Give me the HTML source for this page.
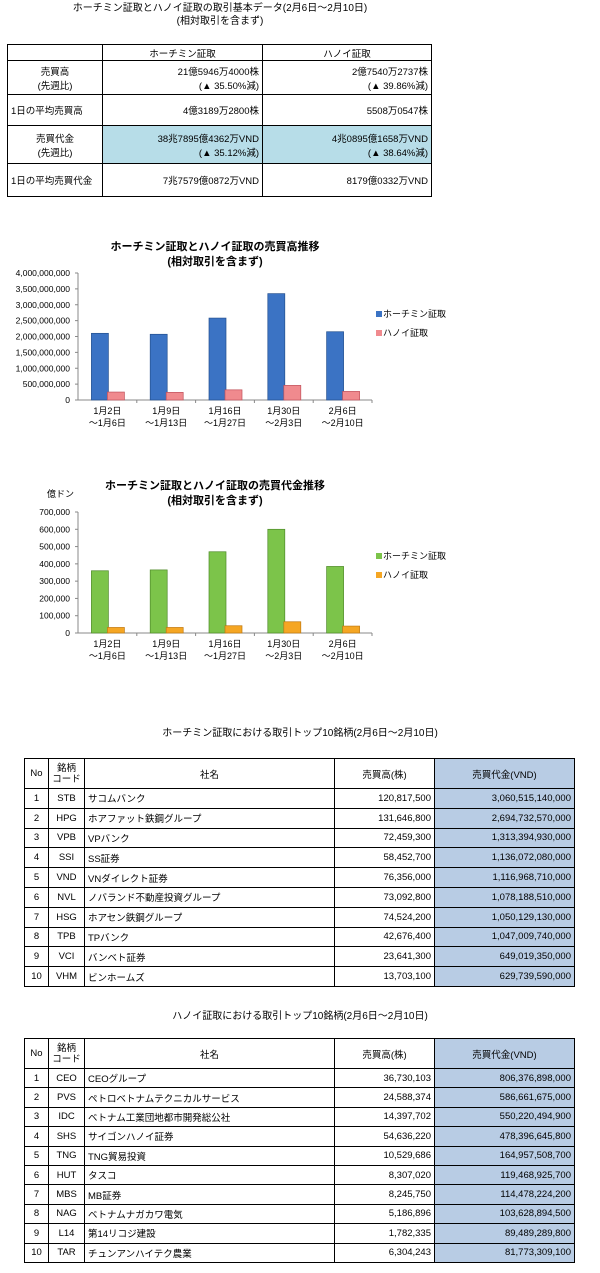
<!DOCTYPE html>
<html><head><meta charset="utf-8">
<style>
*{margin:0;padding:0;box-sizing:border-box}
body{width:600px;height:1273px;background:#fff;position:relative;font-family:"Liberation Sans","Noto Sans CJK JP",sans-serif;color:#000;overflow:hidden}
.t{position:absolute;font-size:10px;white-space:nowrap}
table{position:absolute;border-collapse:collapse;font-size:9.5px}
td{border:1px solid #000;padding:0 3px;white-space:nowrap}
.r{text-align:right}.c{text-align:center}
.hl{background:#b7dde8}.bl{background:#b8cce4}
</style></head><body>
<div class="t" style="left:0;width:440px;text-align:center;top:2px;line-height:13px">ホーチミン証取とハノイ証取の取引基本データ(2月6日～2月10日)<br>(相対取引を含まず)</div>
<table style="left:7px;top:44px;width:425px">
<tr style="height:16px"><td style="width:95px"></td><td class="c" style="width:160px">ホーチミン証取</td><td class="c">ハノイ証取</td></tr>
<tr style="height:34px"><td class="c">売買高<br>(先週比)</td><td class="r">21億5946万4000株<br>(▲ 35.50%減)</td><td class="r">2億7540万2737株<br>(▲ 39.86%減)</td></tr>
<tr style="height:31px"><td>1日の平均売買高</td><td class="r">4億3189万2800株</td><td class="r">5508万0547株</td></tr>
<tr style="height:38px"><td class="c">売買代金<br>(先週比)</td><td class="r hl">38兆7895億4362万VND<br>(▲ 35.12%減)</td><td class="r hl">4兆0895億1658万VND<br>(▲ 38.64%減)</td></tr>
<tr style="height:33px"><td>1日の平均売買代金</td><td class="r">7兆7579億0872万VND</td><td class="r">8179億0332万VND</td></tr>
</table>

<svg id="c1" style="position:absolute;left:0;top:230px" width="600" height="210"></svg>
<svg id="c2" style="position:absolute;left:0;top:470px" width="600" height="210"></svg>

<div class="t" style="left:0;width:600px;text-align:center;top:724px">ホーチミン証取における取引トップ10銘柄(2月6日～2月10日)</div>
<table id="tb1" style="left:24px;top:758px;width:551px"></table>
<div class="t" style="left:0;width:600px;text-align:center;top:1007px">ハノイ証取における取引トップ10銘柄(2月6日～2月10日)</div>
<table id="tb2" style="left:24px;top:1038px;width:551px"></table>

<script>
const cats1=["1月2日|～1月6日","1月9日|～1月13日","1月16日|～1月27日","1月30日|～2月3日","2月6日|～2月10日"];
const hcmVol=[2100000000,2070000000,2580000000,3350000000,2150000000];
const hnVol=[250000000,240000000,320000000,460000000,270000000];
const ticks1=["0","500,000,000","1,000,000,000","1,500,000,000","2,000,000,000","2,500,000,000","3,000,000,000","3,500,000,000","4,000,000,000"];
const hcmVal=[360000,365000,470000,600000,385000];
const hnVal=[32000,32000,42000,65000,40000];
const ticks2=["0","100,000","200,000","300,000","400,000","500,000","600,000","700,000"];

const NS="http://www.w3.org/2000/svg";
function mk(svg,tag,at,txt){const e=document.createElementNS(NS,tag);for(const k in at)e.setAttribute(k,at[k]);if(txt!==undefined)e.textContent=txt;svg.appendChild(e);return e;}
function chart(id,title,unit,ticks,tmax,s1,s2,c1,c2,y0,y1,legY){
  const svg=document.getElementById(id);
  const X0=78,X1=372;
  const y=v=>y0-(v/tmax)*(y0-y1);
  let t=mk(svg,'text',{x:215,y:y1-23,'font-size':11,'font-weight':'bold','text-anchor':'middle'},title[0]);
  mk(svg,'text',{x:215,y:y1-8,'font-size':11,'font-weight':'bold','text-anchor':'middle'},title[1]);
  if(unit){mk(svg,'text',{x:47,y:y1-15,'font-size':9},unit);}
  const step=tmax/(ticks.length-1);
  ticks.forEach((lb,i)=>{const yy=y(i*step);const e=mk(svg,'text',{x:70,y:yy+3,'font-size':8.5,'text-anchor':'end'},lb);mk(svg,'line',{x1:75,x2:X0,y1:yy,y2:yy,stroke:'#888'});});
  mk(svg,'line',{x1:X0,x2:X0,y1:y1,y2:y0,stroke:'#888'});
  mk(svg,'line',{x1:X0,x2:X1,y1:y0,y2:y0,stroke:'#888'});
  const bw=(X1-X0)/cats1.length;
  cats1.forEach((c,i)=>{
    const cx=X0+bw*(i+0.5);
    mk(svg,'line',{x1:X0+bw*(i+1),x2:X0+bw*(i+1),y1:y0,y2:y0+3,stroke:'#888'});
    let b=mk(svg,'rect',{x:cx-16,y:y(s1[i]),width:17,height:y0-y(s1[i]),fill:c1[0],stroke:c1[1],'stroke-width':0.7});
    
    b=mk(svg,'rect',{x:cx,y:y(s2[i]),width:17,height:y0-y(s2[i]),fill:c2[0],stroke:c2[1],'stroke-width':0.7});
    
    const p=c.split('|');
    let l=mk(svg,'text',{x:cx,y:y0+14,'font-size':9,'text-anchor':'middle'},p[0]);
    mk(svg,'text',{x:cx,y:y0+26,'font-size':9,'text-anchor':'middle'},p[1]);
  });
  let g=mk(svg,'rect',{x:376,y:legY-6,width:6,height:6,fill:c1[0]});
  mk(svg,'text',{x:383,y:legY,'font-size':9},'ホーチミン証取');
  g=mk(svg,'rect',{x:376,y:legY+13,width:6,height:6,fill:c2[0]});
  mk(svg,'text',{x:383,y:legY+19,'font-size':9},'ハノイ証取');
}
chart('c1',['ホーチミン証取とハノイ証取の売買高推移','(相対取引を含まず)'],null,ticks1,4000000000,hcmVol,hnVol,['#3b73c4','#24508f'],['#f08a8e','#c0505a'],170,43,87);
chart('c2',['ホーチミン証取とハノイ証取の売買代金推移','(相対取引を含まず)'],'億ドン',ticks2,700000,hcmVal,hnVal,['#7cc44a','#4f8a2a'],['#f5a623','#c07810'],163,42,89);

const hcmRows=[["1","STB","サコムバンク","120,817,500","3,060,515,140,000"],["2","HPG","ホアファット鉄鋼グループ","131,646,800","2,694,732,570,000"],["3","VPB","VPバンク","72,459,300","1,313,394,930,000"],["4","SSI","SS証券","58,452,700","1,136,072,080,000"],["5","VND","VNダイレクト証券","76,356,000","1,116,968,710,000"],["6","NVL","ノバランド不動産投資グループ","73,092,800","1,078,188,510,000"],["7","HSG","ホアセン鉄鋼グループ","74,524,200","1,050,129,130,000"],["8","TPB","TPバンク","42,676,400","1,047,009,740,000"],["9","VCI","バンベト証券","23,641,300","649,019,350,000"],["10","VHM","ビンホームズ","13,703,100","629,739,590,000"]];
const hnRows=[["1","CEO","CEOグループ","36,730,103","806,376,898,000"],["2","PVS","ペトロベトナムテクニカルサービス","24,588,374","586,661,675,000"],["3","IDC","ベトナム工業団地都市開発総公社","14,397,702","550,220,494,900"],["4","SHS","サイゴンハノイ証券","54,636,220","478,396,645,800"],["5","TNG","TNG貿易投資","10,529,686","164,957,508,700"],["6","HUT","タスコ","8,307,020","119,468,925,700"],["7","MBS","MB証券","8,245,750","114,478,224,200"],["8","NAG","ベトナムナガカワ電気","5,186,896","103,628,894,500"],["9","L14","第14リコジ建設","1,782,335","89,489,289,800"],["10","TAR","チュンアンハイテク農業","6,304,243","81,773,309,100"]];
function fill(id,rows,rh){
  const tb=document.getElementById(id);
  let h='<tr style="height:30px"><td class="c" style="width:24px">No</td><td class="c" style="width:36px;line-height:11px">銘柄<br>コード</td><td class="c" style="width:250px">社名</td><td class="c" style="width:100px">売買高(株)</td><td class="c bl">売買代金(VND)</td></tr>';
  rows.forEach(r=>{h+=`<tr style="height:${rh}px"><td class="c">${r[0]}</td><td class="c">${r[1]}</td><td>${r[2]}</td><td class="r">${r[3]}</td><td class="r bl">${r[4]}</td></tr>`;});
  tb.innerHTML=h;
}
fill('tb1',hcmRows,19.8);
fill('tb2',hnRows,19.4);
</script>
</body></html>
